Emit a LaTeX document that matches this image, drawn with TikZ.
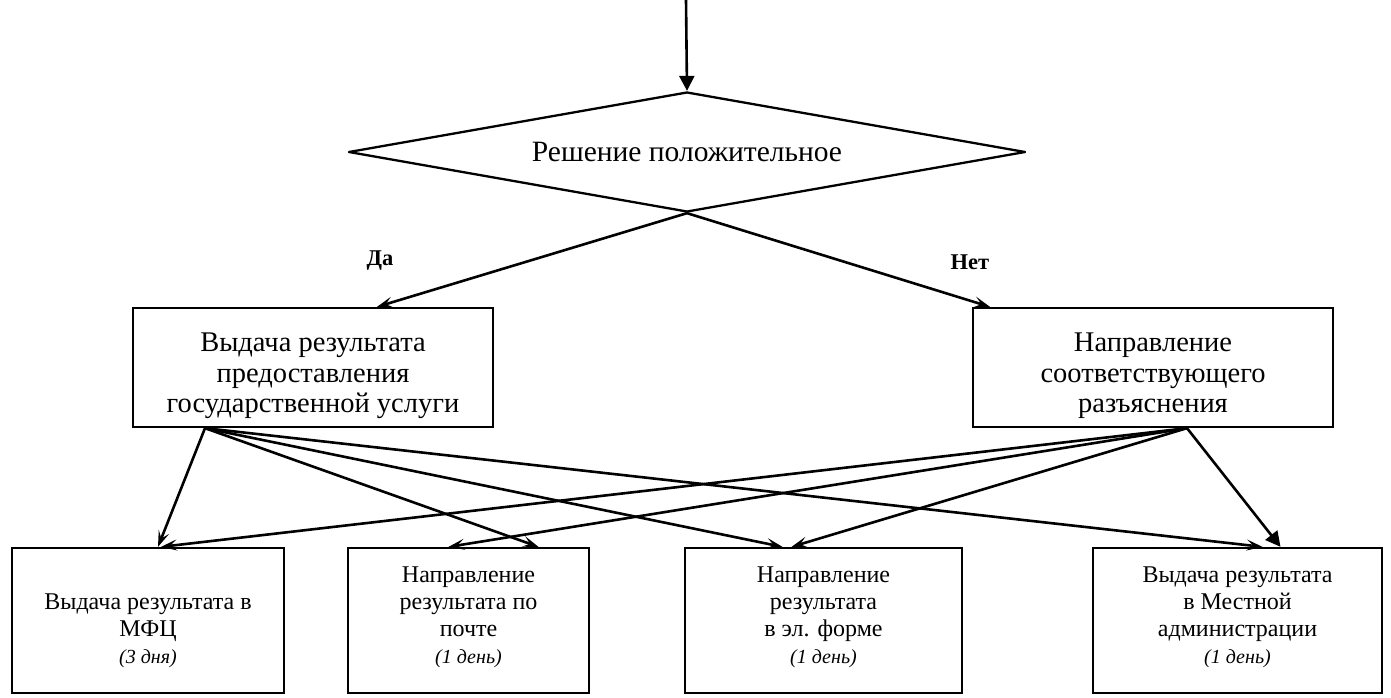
\documentclass[tikz,border=0pt]{standalone}
\usepackage{fontspec}
\setmainfont{Liberation Serif}
\usetikzlibrary{shapes.geometric,arrows.meta}

\begin{document}
\begin{tikzpicture}[x=1pt,y=-1pt,
	box/.style={draw,line width=2.3pt,inner sep=0pt},
	arr/.style={line width=2.6pt,-{Stealth[length=16pt,width=11pt,inset=7pt]}},
	bigarr/.style={line width=2.6pt,-{Triangle[length=15pt,width=15pt]}},
	dectxt/.style={font=\fontsize{29.5}{32}\selectfont},
	bigtxt/.style={font=\fontsize{28.5}{30.5}\selectfont},
	smalltxt/.style={font=\fontsize{24}{27}\selectfont},
	yesno/.style={font=\fontsize{22.5}{26}\selectfont\bfseries}
	]
	\useasboundingbox (0,0) rectangle (1391,697);
	\coordinate (in) at (686,0);
	\node[box,dectxt,diamond,aspect=5.64,line join=round,minimum width=677,minimum height=120] (dec) at (687,152) {Решение положительное};
	\node[box,bigtxt,align=center,minimum width=360,minimum height=119] (lbox) at (313,367.5) {\rule{0pt}{36pt}Выдача результата\\предоставления\\государственной услуги};
	\node[box,bigtxt,align=center,minimum width=360,minimum height=119] (rbox) at (1153,367.5) {\rule{0pt}{36pt}Направление\\соответствующего\\разъяснения};
	\node[yesno] (yes) at (380,261) {Да};
	\node[yesno] (no) at (970,262) {Нет};
	\foreach \n/\x/\w in {mfc/148/272, post/468.5/241, elf/823.5/277, adm/1237.5/289}
		\node[box,minimum width=\w,minimum height=145] (\n) at (\x,620.5) {};
	\foreach \n/\txt/\d in
	{
		mfc/{Выдача результата в\\МФЦ}/{3 дня},
		post/{Направление\\результата по\\почте}/{1 день},
		elf/{Направление\\результата\\в эл. форме}/{1 день},
		adm/{Выдача результата\\в Местной\\администрации}/{1 день}}
		\node[smalltxt,align=center,anchor=base] (\n-t) at ([yshift=-117]\n.north) {\txt\\{\fontsize{20}{26}\selectfont\itshape(\d)}};
	\draw[bigarr] (in) -- (dec.north);
	\draw[arr] (dec.south) -- ([xshift=64]lbox.north);
	\draw[arr] (dec.south) -- ([xshift=-163]rbox.north);
	\foreach \t/\s in {mfc/10, post/70, elf/-41, adm/25}
		\draw[arr] ([xshift=-108]lbox.south) -- ([xshift=\s]\t.north);
	\foreach \t/\s in {mfc/13, post/-20, elf/-32}
		\draw[arr] ([xshift=34]rbox.south) -- ([xshift=\s]\t.north);
	\draw[bigarr] ([xshift=34]rbox.south) -- ([xshift=43]adm.north);
\end{tikzpicture}
\end{document}
